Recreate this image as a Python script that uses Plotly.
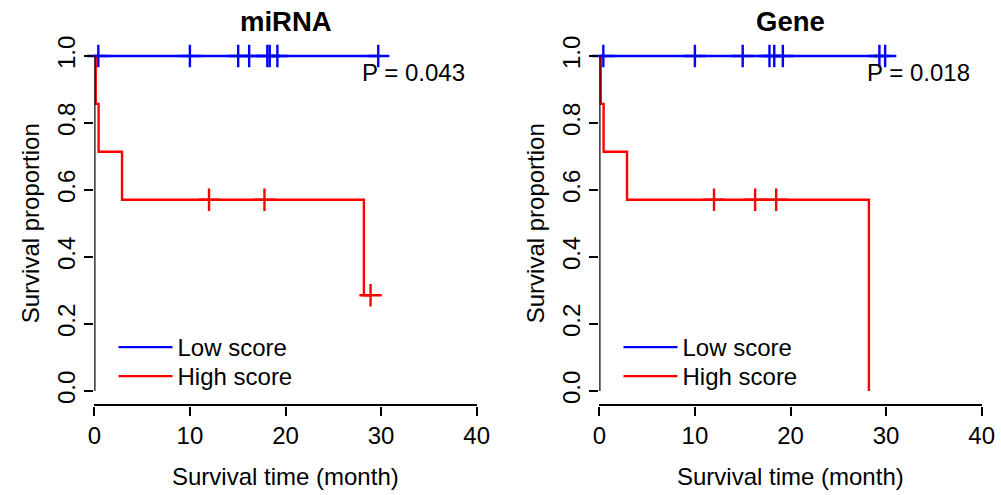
import plotly.graph_objects as go

W, H = 1001, 495

# ---------------- data ----------------
x_ticks = [0, 10, 20, 30, 40]
y_ticks = [0.0, 0.2, 0.4, 0.6, 0.8, 1.0]
y_tick_text = ["0.0", "0.2", "0.4", "0.6", "0.8", "1.0"]

# miRNA panel
mirna_low_time = [0.0, 29.7]
mirna_low_surv = [1.0, 1.0]
mirna_low_cens_time = [0.42, 10.0, 15.05, 16.2, 18.1, 18.35, 19.15, 29.7]
mirna_low_cens_surv = [1.0, 1.0, 1.0, 1.0, 1.0, 1.0, 1.0, 1.0]
mirna_high_time = [0.0, 0.15, 0.45, 2.9, 28.2, 28.9]
mirna_high_surv = [1.0, 0.857, 0.714, 0.571, 0.286, 0.286]
mirna_high_cens_time = [12.0, 17.8, 28.9]
mirna_high_cens_surv = [0.571, 0.571, 0.286]
mirna_p = "P = 0.043"

# Gene panel
gene_low_time = [0.0, 29.9]
gene_low_surv = [1.0, 1.0]
gene_low_cens_time = [0.42, 10.0, 15.0, 17.8, 18.3, 19.2, 29.3, 29.9]
gene_low_cens_surv = [1.0, 1.0, 1.0, 1.0, 1.0, 1.0, 1.0, 1.0]
gene_high_time = [0.0, 0.15, 0.45, 2.9, 28.2]
gene_high_surv = [1.0, 0.857, 0.714, 0.571, 0.0]
gene_high_cens_time = [12.0, 16.3, 18.5]
gene_high_cens_surv = [0.571, 0.571, 0.571]
gene_p = "P = 0.018"

panel_titles = ["miRNA", "Gene"]
group_names = ["Low score", "High score"]
x_title = "Survival time (month)"
y_title = "Survival proportion"

# ---------------- styling ----------------
BLUE = "#0000FF"
RED = "#FF0000"
FONT = "Liberation Sans, Arial, sans-serif"
FS = 24
LW = 2.4

def px_x(p):
    return p / W

def px_y(p):
    return 1 - p / H

x_domains = [[px_x(94.3), px_x(476.7)], [px_x(599.3), px_x(981.7)]]
y_domain = [px_y(404.4), px_y(42.6)]

fig = go.Figure()

panels = [
    (mirna_low_time, mirna_low_surv, mirna_low_cens_time, mirna_low_cens_surv,
     mirna_high_time, mirna_high_surv, mirna_high_cens_time, mirna_high_cens_surv),
    (gene_low_time, gene_low_surv, gene_low_cens_time, gene_low_cens_surv,
     gene_high_time, gene_high_surv, gene_high_cens_time, gene_high_cens_surv),
]

legend_ids = [("legend", "legend3"), ("legend2", "legend4")]

for i, (lt, ls, lct, lcs, ht, hs, hct, hcs) in enumerate(panels):
    xa = "x" if i == 0 else "x2"
    ya = "y" if i == 0 else "y2"
    lg_low, lg_high = legend_ids[i]
    fig.add_trace(go.Scatter(x=lt, y=ls, mode="lines", line=dict(color=BLUE, width=LW, shape="hv"),
                             name=group_names[0], xaxis=xa, yaxis=ya, legend=lg_low, cliponaxis=False))
    fig.add_trace(go.Scatter(x=ht, y=hs, mode="lines", line=dict(color=RED, width=LW, shape="hv"),
                             name=group_names[1], xaxis=xa, yaxis=ya, legend=lg_high, cliponaxis=False))
    fig.add_trace(go.Scatter(x=lct, y=lcs, mode="markers",
                             marker=dict(symbol="cross-thin", size=16, line=dict(color=BLUE, width=LW), color=BLUE),
                             showlegend=False, xaxis=xa, yaxis=ya, cliponaxis=False, hoverinfo="skip"))
    fig.add_trace(go.Scatter(x=hct, y=hcs, mode="markers",
                             marker=dict(symbol="cross-thin", size=16, line=dict(color=RED, width=LW), color=RED),
                             showlegend=False, xaxis=xa, yaxis=ya, cliponaxis=False, hoverinfo="skip"))

xaxis_common = dict(range=[0, 40], tickvals=x_ticks, ticks="outside", ticklen=9, tickwidth=LW,
                    tickcolor="black", showline=True, linewidth=LW, linecolor="black",
                    showgrid=False, zeroline=False, tickfont=dict(family=FONT, size=FS, color="black"),
                    fixedrange=True, automargin=False)
yaxis_common = dict(range=[-0.04, 1.04], domain=y_domain, tickvals=y_ticks, ticktext=y_tick_text,
                    tickangle=-90, ticks="outside", ticklen=9, tickwidth=LW, tickcolor="black",
                    showline=False, showgrid=False, zeroline=False,
                    tickfont=dict(family=FONT, size=FS, color="black"), fixedrange=True,
                    automargin=False)

def legend_box(xpx, ypx):
    return dict(x=px_x(xpx), y=px_y(ypx), xanchor="left", yanchor="top", itemwidth=54,
                bgcolor="rgba(0,0,0,0)", font=dict(family=FONT, size=FS, color="black"))

fig.update_layout(
    width=W, height=H,
    margin=dict(l=0, r=0, t=0, b=0, autoexpand=False),
    paper_bgcolor="white", plot_bgcolor="white",
    font=dict(family=FONT, size=FS, color="black"),
    xaxis=dict(domain=x_domains[0], anchor="y", **xaxis_common),
    yaxis=dict(anchor="x", **yaxis_common),
    xaxis2=dict(domain=x_domains[1], anchor="y2", **xaxis_common),
    yaxis2=dict(anchor="x2", **yaxis_common),
    legend=legend_box(113.5, 325),
    legend3=legend_box(113.5, 354),
    legend2=legend_box(618.5, 325),
    legend4=legend_box(618.5, 354),
    showlegend=True,
)

# y axis lines spanning 0..1 only (R style)
for xa, ya in [("x", "y"), ("x2", "y2")]:
    fig.add_shape(type="line", xref=xa, yref=ya, x0=0, x1=0, y0=0, y1=1,
                  line=dict(color="black", width=LW))

ann = []
for i, (title, ptxt) in enumerate(zip(panel_titles, [mirna_p, gene_p])):
    xa = "x" if i == 0 else "x2"
    ya = "y" if i == 0 else "y2"
    xd = x_domains[i]
    ann.append(dict(text="<b>%s</b>" % title, x=(xd[0] + xd[1]) / 2, y=px_y(21), xref="paper", yref="paper",
                    xanchor="center", yanchor="middle", showarrow=False,
                    font=dict(family=FONT, size=27.5, color="black")))
    ann.append(dict(text=ptxt, x=27.8, y=0.952, xref=xa, yref=ya, xanchor="left", yanchor="middle",
                    showarrow=False, font=dict(family=FONT, size=FS, color="black")))
    ann.append(dict(text=x_title, x=(xd[0] + xd[1]) / 2, y=px_y(476), xref="paper", yref="paper",
                    xanchor="center", yanchor="middle", showarrow=False,
                    font=dict(family=FONT, size=FS, color="black")))
    ann.append(dict(text=y_title, x=xd[0] - px_x(64), y=px_y(223), xref="paper", yref="paper",
                    xanchor="center", yanchor="middle", textangle=-90, showarrow=False,
                    font=dict(family=FONT, size=FS, color="black")))
fig.update_layout(annotations=ann)

fig.write_html("out.html", config={"displayModeBar": False},
               post_script="document.body.style.margin='0px';document.body.style.overflow='hidden';")
